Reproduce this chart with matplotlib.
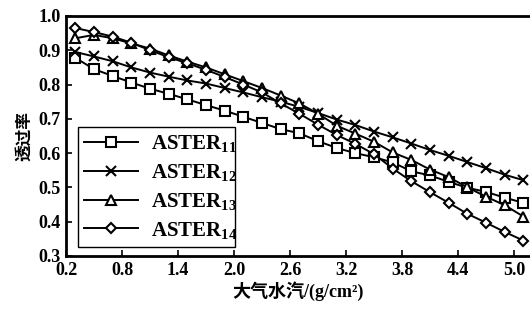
import matplotlib
matplotlib.use("Agg")
import matplotlib.pyplot as plt
import numpy as np

water = [0.3, 0.5, 0.7, 0.9, 1.1, 1.3, 1.5, 1.7, 1.9, 2.1, 2.3, 2.5, 2.7,
         2.9, 3.1, 3.3, 3.5, 3.7, 3.9, 4.1, 4.3, 4.5, 4.7, 4.9, 5.1]
aster11 = [0.878, 0.845, 0.825, 0.806, 0.788, 0.773, 0.757, 0.740, 0.724, 0.706,
           0.688, 0.670, 0.658, 0.635, 0.615, 0.600, 0.588, 0.573, 0.547, 0.535,
           0.516, 0.499, 0.487, 0.470, 0.455]
aster12 = [0.895, 0.882, 0.868, 0.850, 0.835, 0.823, 0.812, 0.803, 0.790, 0.777,
           0.763, 0.750, 0.735, 0.717, 0.698, 0.682, 0.663, 0.646, 0.628, 0.609,
           0.592, 0.574, 0.556, 0.537, 0.521]
aster13 = [0.935, 0.945, 0.935, 0.920, 0.905, 0.885, 0.867, 0.850, 0.830, 0.810,
           0.790, 0.768, 0.745, 0.715, 0.680, 0.657, 0.633, 0.602, 0.580, 0.552,
           0.530, 0.500, 0.473, 0.448, 0.415]
aster14 = [0.965, 0.953, 0.940, 0.922, 0.900, 0.880, 0.862, 0.843, 0.822, 0.800,
           0.777, 0.745, 0.715, 0.683, 0.653, 0.627, 0.597, 0.555, 0.518, 0.486,
           0.455, 0.423, 0.397, 0.370, 0.345]
xticks = [0.2, 0.8, 1.4, 2.0, 2.6, 3.2, 3.8, 4.4, 5.0]
yticks = [0.3, 0.4, 0.5, 0.6, 0.7, 0.8, 0.9, 1.0]
labels = ['11', '12', '13', '14']

plt.rcParams['font.family'] = ['Liberation Serif', 'Noto Sans CJK SC']
plt.rcParams['mathtext.fontset'] = 'custom'
plt.rcParams['mathtext.rm'] = 'Liberation Serif:bold'
plt.rcParams['mathtext.bf'] = 'Liberation Serif:bold'
plt.rcParams['mathtext.it'] = 'Liberation Serif:bold'

fig = plt.figure(figsize=(5.30, 3.17), dpi=100)
ax = fig.add_axes([66/530, 61/317, 1 - 66/530, (256-16)/317])

series = [(aster11, 's'), (aster12, 'x'), (aster13, '^'), (aster14, 'D')]
for (vals, m), sub in zip(series, labels):
    ms = 6.5 if m != 'D' else 5.5
    ax.plot(water, vals, color='black', lw=1.4, marker=m, markersize=ms,
            markerfacecolor='white', markeredgecolor='black', markeredgewidth=1.5,
            label=r'$\mathrm{ASTER}_{%s}$' % sub)

ax.set_xlim(0.2, 5.17)
ax.set_ylim(0.3, 1.0)
ax.set_xticks(xticks)
ax.set_xticklabels([f"{t:.1f}" for t in xticks])
ax.set_yticks(yticks)
ax.set_yticklabels([f"{t:.1f}" for t in yticks])
ax.tick_params(direction='in', length=4, width=1.2, labelsize=13, pad=4)
for lbl in ax.get_xticklabels() + ax.get_yticklabels():
    lbl.set_fontweight('bold')
for s in ['left', 'bottom', 'top']:
    ax.spines[s].set_linewidth(2)
ax.spines['right'].set_visible(False)

ax.set_xlabel('大气水汽/(g/cm²)', fontsize=13, fontweight='bold',
              family=['Liberation Serif', 'Noto Sans CJK SC'], labelpad=2)
ax.set_ylabel('透过率', fontsize=12, fontweight='bold',
              family=['Noto Sans CJK SC'], labelpad=4)

leg = ax.legend(loc='lower left', bbox_to_anchor=(12/464, 9/240, 157/464, 125/240),
                mode='expand', fancybox=False, edgecolor='black', framealpha=1,
                prop={'family': 'Liberation Serif', 'weight': 'bold', 'size': 15},
                handlelength=2.6, labelspacing=0.38, borderpad=0.3,
                handletextpad=0.6, borderaxespad=0)
leg.get_frame().set_linewidth(1.0)

fig.savefig('out.png', dpi=100)
